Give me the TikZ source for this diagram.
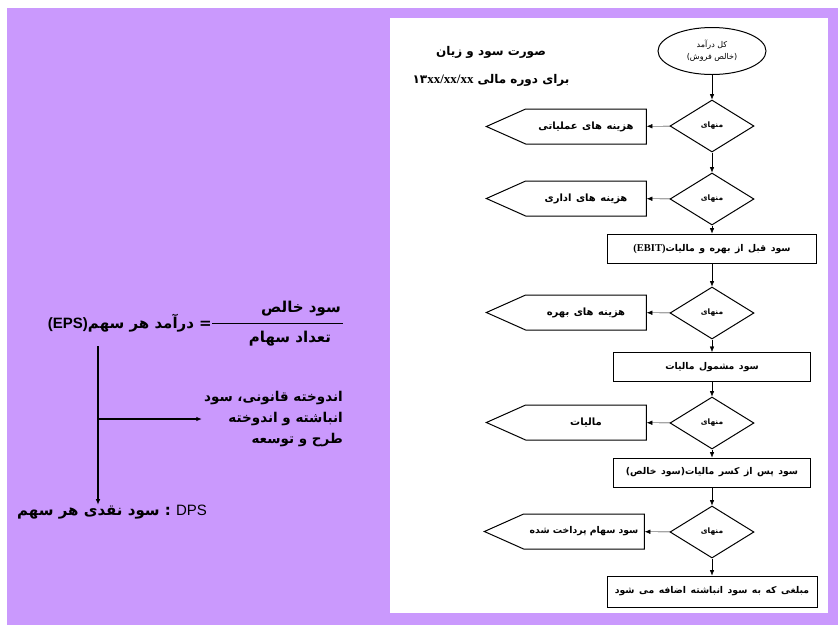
\documentclass[tikz,border=0pt]{standalone}
\usepackage{fontspec}
\newfontfamily\fafont[Script=Arabic]{DejaVu Sans}
\newfontfamily\lsans{Liberation Sans}
\newfontfamily\lserif{Liberation Serif}
\TeXXeTstate=1
\usetikzlibrary{shapes.geometric,shapes.symbols,arrows.meta}
\definecolor{bgpurple}{RGB}{202,153,253}
\newcommand{\fatext}[1]{\beginR #1\endR}
\newcommand{\latin}[1]{\beginL #1\endL{}}
\newcommand{\bazspace}{\spaceskip=4.5pt\relax}
\newcommand{\tangspace}{\spaceskip=3.2pt\relax}
\begin{document}
\begin{tikzpicture}[x=1pt,y=-1pt,>={Latex[length=5.5pt,width=4.5pt]},
    kadr/.style={draw,line width=1pt,shape=rectangle,minimum height=29pt,inner sep=0pt,
      font=\fafont\bfseries\fontsize{9.3}{10}\selectfont\bazspace},
    menha/.style={draw,line width=1pt,shape=diamond,minimum width=84pt,minimum height=52pt,inner sep=0pt,
      font=\fafont\bfseries\fontsize{7.5}{8}\selectfont},
    hazine/.style={draw,line width=1pt,shape=signal,signal to=west,signal pointer angle=48,
      minimum width=160pt,minimum height=35pt,inner sep=0pt,
      font=\fafont\bfseries\fontsize{10}{11}\selectfont\bazspace},
    matn/.style={font=\fafont\bfseries\fontsize{15}{21}\selectfont,inner sep=0pt}]
  \useasboundingbox (0,0) rectangle (838,625);
  \fill[white] (0,0) rectangle (838,625);
  \fill[bgpurple] (7,8) rectangle (838,625);
  \fill[white] (390,18) rectangle (828,613);

  % flowchart
  \node[font=\fafont\bfseries\fontsize{12}{28}\selectfont,align=center] (TA) at (491,66)
    {\fatext{صورت سود و زیان}\\\fatext{برای دوره مالی \latin{۱۳{\lserif\fontsize{13}{28}\selectfont xx/xx/xx}}}};
  \node[draw,line width=1pt,shape=ellipse,minimum width=108pt,minimum height=47pt,inner sep=0pt,
    align=center,font=\fafont\fontsize{8}{12}\selectfont] (FA) at (712,51)
    {\fatext{کل درآمد}\\\fatext{(خالص فروش)}};

  \node[menha] (DA) at (712,126) {\fatext{منهای}};
  \node[menha] (DB) at (712,199) {\fatext{منهای}};
  \node[kadr,minimum width=209pt] (SA) at (712,248.5)
    {\fatext{سود قبل از بهره و مالیات\latin{\lserif\fontsize{10.5}{10}\selectfont(EBIT)}}};
  \node[menha] (DC) at (712,313) {\fatext{منهای}};
  \node[kadr,minimum width=197pt] (SB) at (712,367) {\fatext{سود مشمول مالیات}};
  \node[menha] (DD) at (712,423) {\fatext{منهای}};
  \node[kadr,minimum width=197pt] (SC) at (712,472.5) {\fatext{سود پس از کسر مالیات(سود خالص)}};
  \node[menha] (DE) at (712,532) {\fatext{منهای}};
  \node[kadr,minimum width=210pt,minimum height=31pt] (SD) at (712,591.5)
    {\fatext{مبلغی که به سود انباشته اضافه می شود}};

  \node[hazine] (HA) at (586,126.5) {\fatext{هزینه های عملیاتی}};
  \node[hazine] (HB) at (586,198.5) {\fatext{هزینه های اداری}};
  \node[hazine] (HC) at (586,312.5) {\fatext{هزینه های بهره}};
  \node[hazine] (HD) at (586,422.5) {\fatext{مالیات}};
  \node[hazine,font=\fafont\bfseries\fontsize{9.3}{11}\selectfont\tangspace] (HE) at (584,531.5)
    {\fatext{سود سهام پرداخت شده}};

  \draw[->] (FA)--(DA);
  \draw[->] (DA)--(DB);
  \draw[->] (DB)--(SA);
  \draw[->] (SA)--(DC);
  \draw[->] (DC)--(SB);
  \draw[->] (SB)--(DD);
  \draw[->] (DD)--(SC);
  \draw[->] (SC)--(DE);
  \draw[->] (DE)--(SD);
  \draw[->] (DA)--(HA);
  \draw[->] (DB)--(HB);
  \draw[->] (DC)--(HC);
  \draw[->] (DD)--(HD);
  \draw[->] (DE)--(HE);

  % left side
  \node[matn] (LA) at (301,309) {\fatext{سود خالص}};
  \node[matn] (LB) at (290,339) {\fatext{تعداد سهام}};
  \node[matn,anchor=east] (LC) at (212,323)
    {\fatext{= درآمد هر سهم\latin{{\lsans(EPS)}}}};
  \draw[line width=1pt] (LC.east) -- (343,323);
  \node[matn,anchor=east,align=right,font=\fafont\bfseries\fontsize{13.5}{21}\selectfont] (LD) at (343,419)
    {\fatext{اندوخته قانونی، سود}\\\fatext{انباشته و اندوخته}\\\fatext{طرح و توسعه}};
  \node[matn,anchor=west] (LE) at (17,512)
    {\fatext{\latin{{\lsans\mdseries DPS}} : سود نقدی هر سهم}};
  \coordinate (VA) at (98,346);
  \coordinate (VB) at (98,419);
  \draw[->,line width=1.1pt] (VA) -- (VA|-LE.north);
  \draw[->,line width=1.1pt] (VB) -- ([xshift=-2pt]LD.west|-VB);
\end{tikzpicture}
\end{document}
